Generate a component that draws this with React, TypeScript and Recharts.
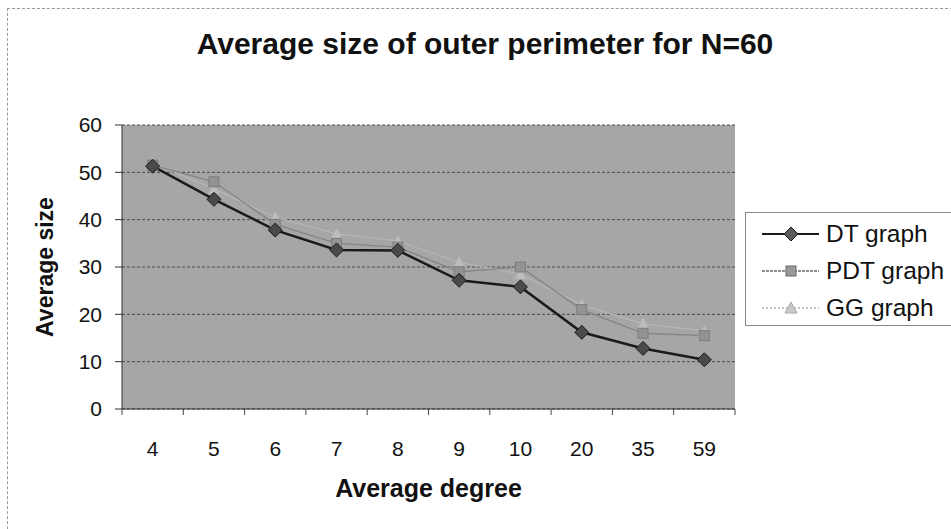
import React from 'react';
import { LineChart, Line, XAxis, YAxis, CartesianGrid } from 'recharts';

const FONT = '"Liberation Sans", Arial, sans-serif';

// values
const categories = ['4', '5', '6', '7', '8', '9', '10', '20', '35', '59'];
const dtValues = [51.3, 44.3, 37.8, 33.6, 33.5, 27.2, 25.8, 16.2, 12.8, 10.4];
const pdtValues = [51.5, 48.0, 39.0, 35.0, 34.2, 29.0, 30.0, 21.0, 16.0, 15.5];
const ggValues = [52.0, 46.5, 40.5, 37.0, 35.5, 31.0, 28.5, 22.0, 18.0, 16.5];
const yTicks = [0, 10, 20, 30, 40, 50, 60];
const seriesNames = ['DT graph', 'PDT graph', 'GG graph'];

const data = categories.map((c, i) => ({
  degree: c,
  dt: dtValues[i],
  pdt: pdtValues[i],
  gg: ggValues[i],
}));

const W = 951;
const H = 529;
// axis sizes are added on top of the margins
const MARGIN = { top: 125, right: 216, bottom: 0, left: 0 };
const X_AXIS_H = 120;
const Y_AXIS_W = 122;
const PLOT_W = W - MARGIN.right - MARGIN.left - Y_AXIS_W;
const BAND = PLOT_W / categories.length;
const X_TICK_MARGIN = 32;

const Diamond = ({ cx, cy, fill, stroke }: any) => (
  <polygon
    points={`${cx},${cy - 7} ${cx + 7},${cy} ${cx},${cy + 7} ${cx - 7},${cy}`}
    fill={fill}
    stroke={stroke}
    strokeWidth={1}
  />
);

const Square = ({ cx, cy, fill, stroke }: any) => (
  <rect x={cx - 5} y={cy - 5} width={10} height={10} fill={fill} stroke={stroke} strokeWidth={1} />
);

const Triangle = ({ cx, cy, fill, stroke }: any) => (
  <polygon
    points={`${cx},${cy - 6} ${cx + 6},${cy + 5} ${cx - 6},${cy + 5}`}
    fill={fill}
    stroke={stroke}
    strokeWidth={1}
  />
);

// category label plus Excel-style tick marks on the band boundaries
const XTick = (p: any) => {
  const axisY = p.y - X_TICK_MARGIN;
  const last = p.index === categories.length - 1;
  return (
    <g>
      <line x1={p.x - BAND / 2} x2={p.x - BAND / 2} y1={axisY} y2={axisY + 6} stroke="#444" />
      {last && <line x1={p.x + BAND / 2} x2={p.x + BAND / 2} y1={axisY} y2={axisY + 6} stroke="#444" />}
      <text x={p.x} y={p.y + 15} textAnchor="middle" fontSize={21} fill="#111">
        {p.payload.value}
      </text>
    </g>
  );
};

const legendRows = [
  { name: seriesNames[0], line: '#1a1a1a', width: 2, dash: undefined, marker: 'diamond', fill: '#5a5a5a', stroke: '#1a1a1a' },
  { name: seriesNames[1], line: '#6a6a6a', width: 1.5, dash: '3 1', marker: 'square', fill: '#9a9a9a', stroke: '#6a6a6a' },
  { name: seriesNames[2], line: '#b0b0b0', width: 1.5, dash: '2 2', marker: 'triangle', fill: '#c8c8c8', stroke: '#aaaaaa' },
];

const LegendBox = () => (
  <div
    style={{
      position: 'absolute',
      left: 745,
      top: 212,
      width: 210,
      height: 112,
      border: '1px solid #8a8a8a',
      background: '#fff',
    }}
  >
    {legendRows.map((r, i) => (
      <div key={r.name} style={{ position: 'absolute', left: 0, top: 7 + i * 37, height: 28, display: 'flex', alignItems: 'center' }}>
        <svg width={78} height={28} style={{ display: 'block' }}>
          <line x1={16} x2={73} y1={14} y2={14} stroke={r.line} strokeWidth={r.width} strokeDasharray={r.dash} />
          {r.marker === 'diamond' && <Diamond cx={45} cy={14} fill={r.fill} stroke={r.stroke} />}
          {r.marker === 'square' && <Square cx={45} cy={14} fill={r.fill} stroke={r.stroke} />}
          {r.marker === 'triangle' && <Triangle cx={45} cy={14} fill={r.fill} stroke={r.stroke} />}
        </svg>
        <span style={{ fontSize: 24.5, color: '#111', marginLeft: 2, whiteSpace: 'nowrap' }}>{r.name}</span>
      </div>
    ))}
  </div>
);

export default function App() {
  return (
    <div style={{ position: 'relative', width: W, height: H, background: '#fff', fontFamily: FONT, overflow: 'hidden' }}>
      <style>{'body{margin:0}'}</style>
      <div
        style={{
          position: 'absolute',
          left: 7,
          top: 8,
          width: 960,
          height: 540,
          borderTop: '1px dashed #9a9a9a',
          borderLeft: '1px dashed #9a9a9a',
        }}
      />
      <LineChart width={W} height={H} data={data} margin={MARGIN} style={{ fontFamily: FONT }}>
        <CartesianGrid vertical={false} fill="#a6a6a6" stroke="#4a4a4a" strokeDasharray="3 2" />
        <XAxis
          dataKey="degree"
          interval={0}
          padding={{ left: BAND / 2, right: BAND / 2 }}
          tickLine={false}
          tickSize={0}
          tickMargin={X_TICK_MARGIN}
          height={X_AXIS_H}
          axisLine={{ stroke: '#333' }}
          tick={XTick}
          label={(p: any) => {
            const vb = p.viewBox || { x: Y_AXIS_W, width: PLOT_W };
            return (
              <text x={vb.x + vb.width / 2} y={497} textAnchor="middle" fontSize={25} fontWeight="bold" fill="#111">
                Average degree
              </text>
            );
          }}
        />
        <YAxis
          domain={[0, 60]}
          ticks={yTicks}
          width={Y_AXIS_W}
          tickSize={7}
          tickMargin={13}
          stroke="#333"
          tick={{ fill: '#111', fontSize: 21 }}
          label={(p: any) => {
            const vb = p.viewBox || { y: MARGIN.top, height: 284 };
            const cy = vb.y + vb.height / 2;
            return (
              <text x={53} y={cy} transform={`rotate(-90, 53, ${cy})`} textAnchor="middle" fontSize={23} fontWeight="bold" fill="#111">
                Average size
              </text>
            );
          }}
        />
        <Line
          dataKey="gg"
          name={seriesNames[2]}
          stroke="#b6b6b6"
          strokeWidth={1.2}
          isAnimationActive={false}
          dot={(p: any) => <Triangle key={`gg-${p.index}`} cx={p.cx} cy={p.cy} fill="#bdbdbd" stroke="#afafaf" />}
        />
        <Line
          dataKey="pdt"
          name={seriesNames[1]}
          stroke="#858585"
          strokeWidth={1.3}
          isAnimationActive={false}
          dot={(p: any) => <Square key={`pdt-${p.index}`} cx={p.cx} cy={p.cy} fill="#939393" stroke="#7c7c7c" />}
        />
        <Line
          dataKey="dt"
          name={seriesNames[0]}
          stroke="#1a1a1a"
          strokeWidth={2.5}
          isAnimationActive={false}
          dot={(p: any) => <Diamond key={`dt-${p.index}`} cx={p.cx} cy={p.cy} fill="#4a4a4a" stroke="#1a1a1a" />}
        />
      </LineChart>
      <div
        style={{
          position: 'absolute',
          left: 160,
          top: 29,
          width: 650,
          textAlign: 'center',
          fontSize: 30,
          lineHeight: '30px',
          fontWeight: 'bold',
          color: '#111',
          whiteSpace: 'nowrap',
        }}
      >
        Average size of outer perimeter for N=60
      </div>
      <LegendBox />
    </div>
  );
}
